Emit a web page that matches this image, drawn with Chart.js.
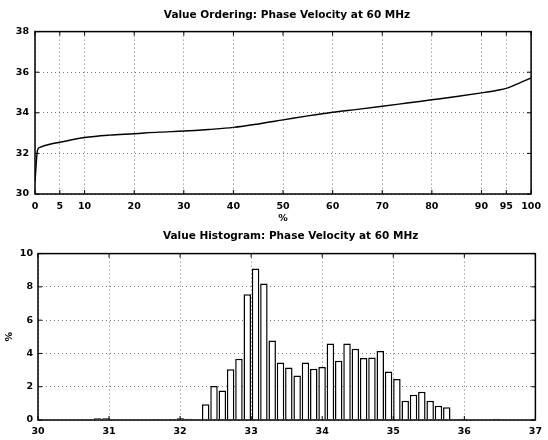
<!DOCTYPE html>
<html><head><meta charset="utf-8">
<script src="https://cdn.jsdelivr.net/npm/chart.js@4.4.1/dist/chart.umd.min.js"></script>
<style>
html,body{margin:0;padding:0;background:#fff;}
#c1{position:absolute;left:0;top:0;}
#c2{position:absolute;left:0;top:225px;}
</style></head><body>
<canvas id="c1" width="548" height="225"></canvas>
<canvas id="c2" width="548" height="215"></canvas>
<script>
// ---- Top panel: value ordering ----
const orderPct = [0, 0.5, 1, 3, 5, 10, 15, 20, 25, 30, 35, 40, 45, 50, 55, 60, 65, 70, 75, 80, 85, 90, 93, 95, 97, 100];
const orderVal = [30.6, 32.15, 32.3, 32.45, 32.55, 32.78, 32.9, 32.97, 33.05, 33.1, 33.18, 33.28, 33.45, 33.65, 33.85, 34.03, 34.17, 34.32, 34.48, 34.64, 34.8, 34.98, 35.1, 35.2, 35.4, 35.72];
const orderXTicks = [0, 5, 10, 20, 30, 40, 50, 60, 70, 80, 90, 95, 100];
const orderYTicks = [30, 32, 34, 36, 38];

// ---- Bottom panel: value histogram ----
const binCenters = [30.020, 30.137, 30.254, 30.371, 30.488, 30.605, 30.722, 30.839, 30.956, 31.073,
  31.190, 31.307, 31.424, 31.541, 31.658, 31.775, 31.892, 32.009, 32.126, 32.243,
  32.360, 32.477, 32.594, 32.711, 32.828, 32.945, 33.062, 33.179, 33.296, 33.413,
  33.530, 33.647, 33.764, 33.881, 33.998, 34.115, 34.232, 34.349, 34.466, 34.583,
  34.700, 34.817, 34.934, 35.051, 35.168, 35.285, 35.402, 35.519, 35.636, 35.753,
  35.870, 35.987, 36.104, 36.221, 36.338, 36.455, 36.572, 36.689, 36.806, 36.923];
const binPct = [0, 0, 0, 0, 0, 0, 0.05, 0.1, 0.1, 0.03,
  0, 0, 0, 0.03, 0.06, 0.03, 0.06, 0.1, 0.08, 0.04,
  0.95, 2.05, 1.78, 3.05, 3.68, 7.55, 9.1, 8.2, 4.78, 3.45,
  3.15, 2.68, 3.46, 3.08, 3.18, 4.6, 3.56, 4.6, 4.28, 3.72,
  3.76, 4.14, 2.92, 2.46, 1.16, 1.52, 1.7, 1.16, 0.86, 0.76,
  0.05, 0.08, 0.03, 0, 0.03, 0.08, 0.03, 0, 0, 0];
const histXTicks = [30, 31, 32, 33, 34, 35, 36, 37];
const histYTicks = [0, 2, 4, 6, 8, 10];

const FONT = '"DejaVu Sans", "Liberation Sans", Arial, sans-serif';
const tickFont = {family: FONT, size: 9.5, weight: 'bold'};
const titleFont = {family: FONT, size: 10.5, weight: 'bold'};

const frame = {
  id: 'frame',
  afterDatasetsDraw(chart) {
    const {ctx, chartArea: a, scales} = chart;
    ctx.save();
    ctx.strokeStyle = '#000';
    ctx.lineWidth = 1.5;
    ctx.setLineDash([]);
    ctx.strokeRect(a.left, a.top, a.right - a.left, a.bottom - a.top);
    ctx.lineWidth = 1;
    const L = 4;
    ctx.beginPath();
    scales.x.ticks.forEach(t => {
      const p = scales.x.getPixelForValue(t.value);
      ctx.moveTo(p, a.bottom); ctx.lineTo(p, a.bottom - L);
      ctx.moveTo(p, a.top); ctx.lineTo(p, a.top + L);
    });
    scales.y.ticks.forEach(t => {
      const p = scales.y.getPixelForValue(t.value);
      ctx.moveTo(a.left, p); ctx.lineTo(a.left + L, p);
      ctx.moveTo(a.right, p); ctx.lineTo(a.right - L, p);
    });
    ctx.stroke();
    ctx.restore();
  }
};

// center the title over the plot area instead of the whole canvas
const centerTitle = {
  id: 'centerTitle',
  afterLayout(chart) {
    const t = chart.titleBlock;
    if (!t) return;
    const a = chart.chartArea;
    const shift = (a.left + a.right) / 2 - (t.left + t.right) / 2 + 4;
    t.left += shift;
    t.right += shift;
  }
};

function gridOpts() {
  return {color: '#555', lineWidth: 0.8, drawTicks: false};
}
function borderOpts() {
  return {display: false, dash: [1, 3]};
}

new Chart(document.getElementById('c1'), {
  type: 'line',
  data: {
    datasets: [{
      data: orderPct.map((p, i) => ({x: p, y: orderVal[i]})),
      borderColor: '#000',
      borderWidth: 1.4,
      pointRadius: 0,
      cubicInterpolationMode: 'monotone',
      fill: false
    }]
  },
  options: {
    responsive: false,
    animation: false,
    layout: {padding: {left: 0, right: 13, top: 0, bottom: 0}},
    plugins: {
      legend: {display: false},
      tooltip: {enabled: false},
      title: {
        display: true,
        text: 'Value Ordering: Phase Velocity at 60 MHz',
        color: '#000',
        font: titleFont,
        padding: {top: 9, bottom: 10}
      }
    },
    scales: {
      x: {
        type: 'linear', min: 0, max: 100,
        afterBuildTicks: s => { s.ticks = orderXTicks.map(v => ({value: v})); },
        afterFit: s => { s.height = 31; },
        ticks: {color: '#000', font: tickFont, padding: 7, autoSkip: false, maxRotation: 0},
        grid: gridOpts(),
        border: borderOpts(),
        title: {display: true, text: '%', color: '#000', font: tickFont, padding: {top: 0, bottom: 1}}
      },
      y: {
        type: 'linear', min: 30, max: 38,
        afterBuildTicks: s => { s.ticks = orderYTicks.map(v => ({value: v})); },
        afterFit: s => { s.width = 35; },
        ticks: {color: '#000', font: tickFont, padding: 6},
        grid: gridOpts(),
        border: borderOpts()
      }
    }
  },
  plugins: [frame, centerTitle]
});

new Chart(document.getElementById('c2'), {
  type: 'bar',
  data: {
    datasets: [{
      data: binCenters.map((c, i) => ({x: c, y: binPct[i]})),
      backgroundColor: '#fff',
      borderColor: '#000',
      borderWidth: 1.5,
      barPercentage: 0.9,
      categoryPercentage: 1.0
    }]
  },
  options: {
    responsive: false,
    animation: false,
    layout: {padding: {left: 0, right: 11, top: 0, bottom: 0}},
    plugins: {
      legend: {display: false},
      tooltip: {enabled: false},
      title: {
        display: true,
        text: 'Value Histogram: Phase Velocity at 60 MHz',
        color: '#000',
        font: titleFont,
        padding: {top: 5, bottom: 11}
      }
    },
    scales: {
      x: {
        type: 'linear', min: 30, max: 37, offset: false,
        afterBuildTicks: s => { s.ticks = histXTicks.map(v => ({value: v})); },
        afterFit: s => { s.height = 20; },
        ticks: {color: '#000', font: tickFont, padding: 6, autoSkip: false, maxRotation: 0},
        grid: Object.assign(gridOpts(), {offset: false}),
        border: borderOpts()
      },
      y: {
        type: 'linear', min: 0, max: 10,
        afterBuildTicks: s => { s.ticks = histYTicks.map(v => ({value: v})); },
        afterFit: s => { s.width = 38; },
        ticks: {color: '#000', font: tickFont, padding: 5},
        grid: gridOpts(),
        border: borderOpts(),
        title: {display: true, text: '%', color: '#000', font: tickFont, padding: {top: 4, bottom: 0}}
      }
    }
  },
  plugins: [frame, centerTitle]
});
</script>
</body></html>
